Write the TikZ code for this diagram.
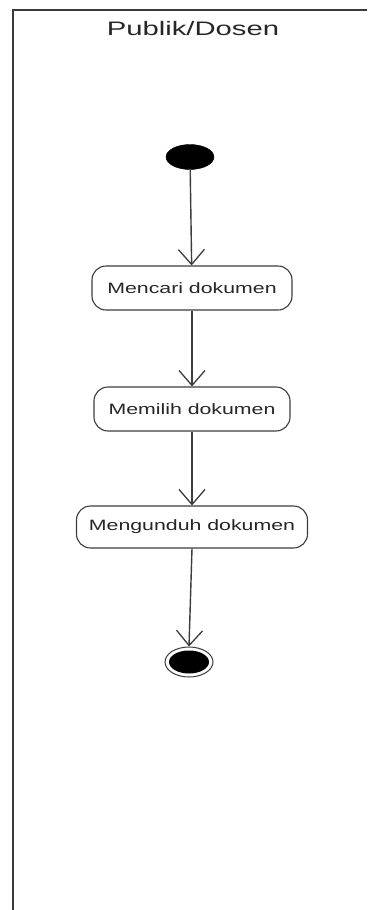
\documentclass[tikz,border=0pt]{standalone}
\usepackage{fontspec}
\setmainfont{Liberation Sans}[FakeStretch=1.5]
\newfontfamily\boxfont{Liberation Sans}[FakeStretch=1.42]
\usetikzlibrary{arrows.meta,shapes.geometric}
\definecolor{ln}{HTML}{3c3c3c}
\tikzset{
  act/.style={draw=ln, line width=1.1pt, rounded corners=14pt, minimum height=44pt, inner sep=0pt, font=\boxfont\fontsize{15pt}{17pt}\selectfont, text=black!85},
  flow/.style={draw=ln, line width=1.4pt, -{Straight Barb[length=15pt,width=26pt,line width=1.3pt]}},
}
\begin{document}
\begin{tikzpicture}[x=1pt,y=-1pt]
\useasboundingbox (0,0) rectangle (367,910);
\fill[white] (0,0) rectangle (367,910);
% frame
\draw[color=ln, line width=2.4pt] (13,910) -- (13,10) -- (367,10);
\node[font=\fontsize{19.5pt}{22pt}\selectfont, text=black!85] (title) at (193,29) {Publik/Dosen};
% nodes
\node[ellipse, fill=black, draw=black, minimum width=48pt, minimum height=25pt, inner sep=0pt] (start) at (190,157) {};
\node[act, minimum width=200pt] (a1) at (192,288) {Mencari dokumen};
\node[act, minimum width=196pt] (a2) at (192,409) {Memilih dokumen};
\node[act, minimum width=231pt, minimum height=42pt] (a3) at (192,527) {Mengunduh dokumen};
\node[ellipse, draw=ln, line width=1pt, fill=white, minimum width=48pt, minimum height=30pt, inner sep=0pt] (end) at (189,662) {};
\node[ellipse, fill=black, minimum width=40pt, minimum height=23pt, inner sep=0pt] (endin) at (end.center) {};
% flows
\draw[flow] (start) -- (a1);
\draw[flow] (a1) -- (a2);
\draw[flow] (a2) -- (a3);
\draw[flow] (a3.south) -- (end.north);
\end{tikzpicture}
\end{document}
